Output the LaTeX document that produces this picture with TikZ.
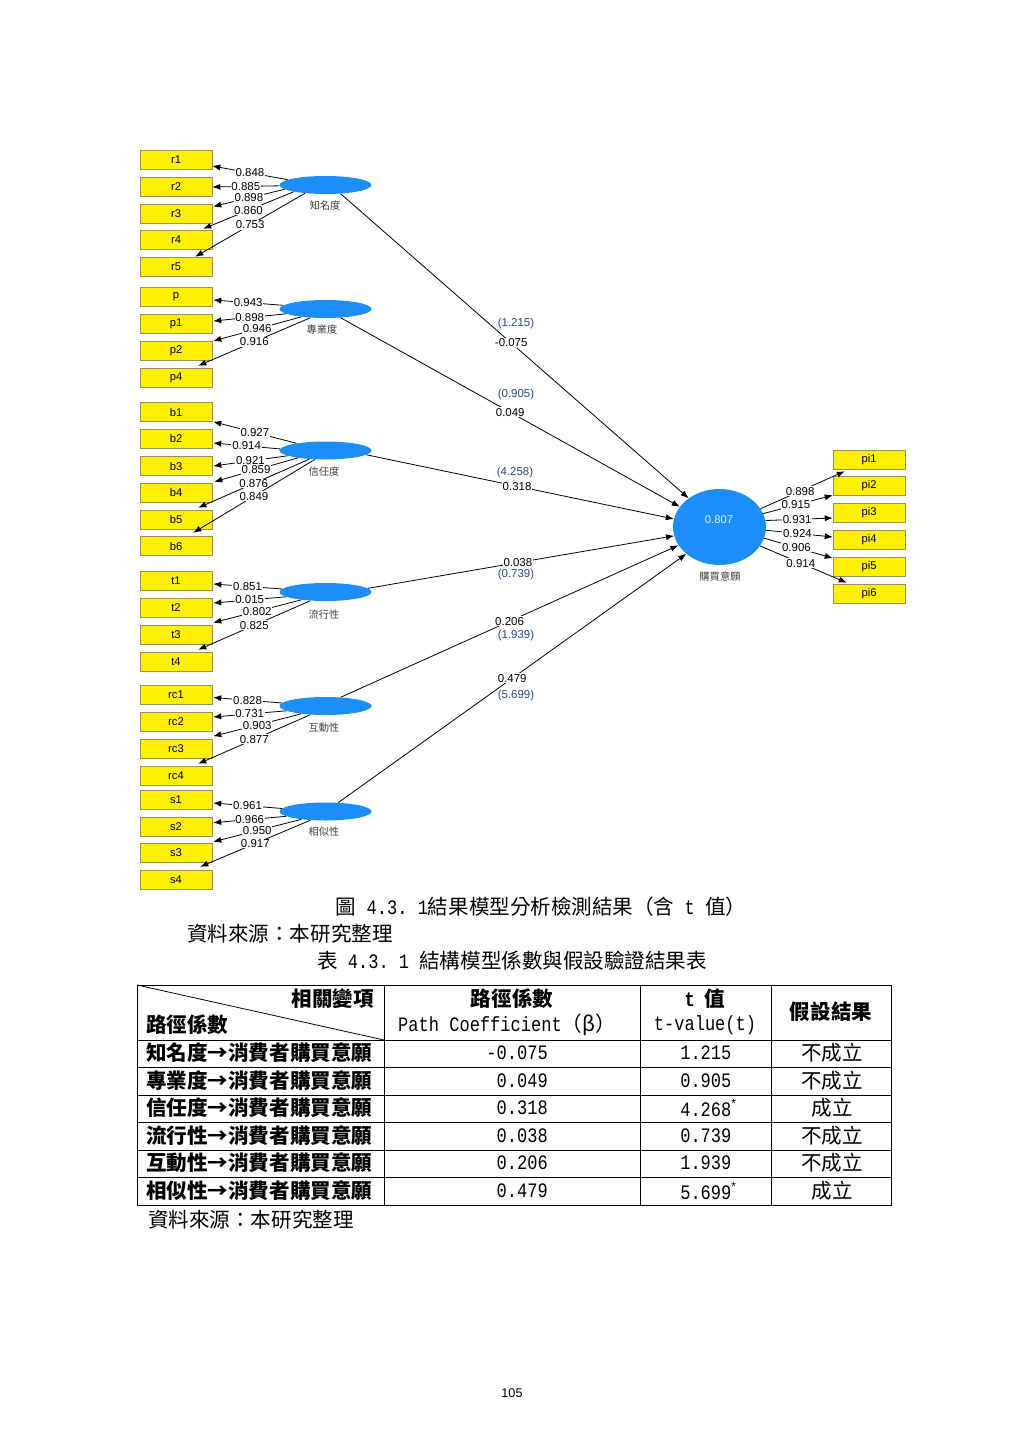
\documentclass[tikz,border=0pt]{standalone}
\usepackage{fontspec}
\setmainfont{Liberation Sans}
\newfontfamily\cjk{Noto Sans CJK TC}
\newfontfamily\hw[FakeStretch=0.83]{Liberation Mono}
\newfontfamily\lsans{Liberation Sans}
\usetikzlibrary{shapes.geometric,arrows.meta,calc}
\definecolor{yel}{RGB}{255,240,0}
\definecolor{yeldraw}{RGB}{150,145,90}
\definecolor{lvblue}{RGB}{28,142,248}
\definecolor{tblue}{RGB}{40,75,130}
\tikzset{
  ind/.style={rectangle, draw=yeldraw, fill=yel, minimum width=54pt, minimum height=14.25pt, inner sep=0pt, font=\fontsize{8.4}{9}\selectfont},
  lv/.style={ellipse, fill=lvblue, minimum width=69pt, minimum height=13.5pt, inner sep=0pt},
  lvlab/.style={inner sep=0pt, text=black!75, font=\cjk\fontsize{7.7}{9}\selectfont},
  lab/.style={fill=white, inner sep=0.6pt, font=\fontsize{8.6}{9}\selectfont},
  tv/.style={inner sep=0.5pt, text=tblue, font=\fontsize{8.6}{9}\selectfont},
  ar/.style={-{Latex[length=6pt,width=4.6pt]}, line width=0.6pt},
  tl/.style={line width=0.7pt},
  tb/.style={inner sep=0pt, font=\cjk\fontsize{15.4}{18}\selectfont},
  tbb/.style={inner sep=0pt, font=\cjk\bfseries\fontsize{15.4}{18}\selectfont},
  tn/.style={inner sep=0pt, font=\hw\fontsize{15.4}{18}\selectfont}
}
\newcommand{\mystar}{\raisebox{0.9ex}{\lsans\fontsize{9}{10}\selectfont *}}
\begin{document}
\begin{tikzpicture}[x=0.75pt,y=-0.75pt]
\fill[white] (0,0) rectangle (1024,1448);
\useasboundingbox (0,0) rectangle (1024,1448);

% indicator boxes (left)
\node[ind] (r1) at (176,160) {r1};
\node[ind] (r2) at (176,187) {r2};
\node[ind] (r3) at (176,213.5) {r3};
\node[ind] (r4) at (176,240) {r4};
\node[ind] (r5) at (176,267) {r5};
\node[ind] (p) at (176,297) {p};
\node[ind] (p1) at (176,323.5) {p1};
\node[ind] (p2) at (176,351) {p2};
\node[ind] (p4) at (176,377.5) {p4};
\node[ind] (b1) at (176,412) {b1};
\node[ind] (b2) at (176,438.5) {b2};
\node[ind] (b3) at (176,466) {b3};
\node[ind] (b4) at (176,492.5) {b4};
\node[ind] (b5) at (176,519.5) {b5};
\node[ind] (b6) at (176,546) {b6};
\node[ind] (t1) at (176,581) {t1};
\node[ind] (t2) at (176,608) {t2};
\node[ind] (t3) at (176,635) {t3};
\node[ind] (t4) at (176,661.5) {t4};
\node[ind] (rc1) at (176,694.5) {rc1};
\node[ind] (rc2) at (176,722) {rc2};
\node[ind] (rc3) at (176,748.5) {rc3};
\node[ind] (rc4) at (176,775.5) {rc4};
\node[ind] (s1) at (176,800) {s1};
\node[ind] (s2) at (176,826.7) {s2};
\node[ind] (s3) at (176,853) {s3};
\node[ind] (s4) at (176,880) {s4};

% indicator boxes (right)
\node[ind] (pi1) at (869,460) {pi1};
\node[ind] (pi2) at (869,486) {pi2};
\node[ind] (pi3) at (869,513) {pi3};
\node[ind] (pi4) at (869,539.5) {pi4};
\node[ind] (pi5) at (869,567) {pi5};
\node[ind] (pi6) at (869,593.5) {pi6};

% latent variables
\node[lv] (zm) at (325.5,185) {};
\node[lv] (zy) at (325.5,309) {};
\node[lv] (xr) at (325.5,450.5) {};
\node[lv] (lx) at (325.5,592) {};
\node[lv] (hd) at (325.5,706) {};
\node[lv] (xs) at (325.5,811.5) {};
\node[ellipse, fill=lvblue, minimum width=69.75pt, minimum height=57pt, inner sep=0pt] (bi) at (719.5,527) {};
\node[inner sep=0pt, text={rgb,255:red,220;green,240;blue,255}, font=\fontsize{8.4}{9}\selectfont] (bival) at (719,520) {0.807};

\node[lvlab] (zmL) at (325,206) {知名度};
\node[lvlab] (zyL) at (322,330) {專業度};
\node[lvlab] (xrL) at (324,472) {信任度};
\node[lvlab] (lxL) at (324,615) {流行性};
\node[lvlab] (hdL) at (324,728) {互動性};
\node[lvlab] (xsL) at (324,832) {相似性};
\node[lvlab] (biL) at (720,577) {購買意願};

% loadings group 1
\draw[ar] (zm.172) -- node[lab]{0.848} ($(r1.east)+(0,6)$);
\draw[ar] (zm.181) -- node[lab]{0.885} (r2.east);
\draw[ar] (zm.186) -- node[lab]{0.898} ($(r3.east)+(1,-7)$);
\draw[ar] (zm.192) -- node[lab]{0.860} ($(r4.north east)+(-9,-1.5)$);
\draw[ar] (zm.202) -- node[lab]{0.753} ($(r5.north east)+(-17,-0.5)$);
% group 2
\draw[ar] (zy.175) -- node[lab]{0.943} ($(p.east)+(1,3)$);
\draw[ar] (zy.187) -- node[lab]{0.898} ($(p1.east)+(1,-2.5)$);
\draw[ar] (zy.198) -- node[lab]{0.946} ($(p2.east)+(1,-10)$);
\draw[ar] (zy.210) -- node[lab]{0.916} ($(p4.north east)+(-14,-2)$);
% group 3
\draw[ar] (xr.166) -- node[lab]{0.927} ($(b1.south east)+(1,0)$);
\draw[ar] (xr.178) -- node[lab]{0.914} ($(b2.east)+(1,4.5)$);
\draw[ar] (xr.188) -- node[lab]{0.921} ($(b3.east)+(1,0)$);
\draw[ar] (xr.195) -- node[lab]{0.859} ($(b4.north east)+(2,-1)$);
\draw[ar] (xr.208) -- node[lab]{0.876} ($(b5.north east)+(-14,-2)$);
\draw[ar] (xr.220) -- node[lab]{0.849} ($(b6.north east)+(-19,-3.5)$);
% group 4
\draw[ar] (lx.176) -- node[lab]{0.851} ($(t1.east)+(1,3)$);
\draw[ar] (lx.187) -- node[lab]{0.015} ($(t2.east)+(1,-5)$);
\draw[ar] (lx.198) -- node[lab]{0.802} ($(t3.north east)+(1,-2.5)$);
\draw[ar] (lx.210) -- node[lab]{0.825} ($(t4.north east)+(-14,-2)$);
% group 5
\draw[ar] (hd.176) -- node[lab]{0.828} ($(rc1.east)+(1,3)$);
\draw[ar] (hd.187) -- node[lab]{0.731} ($(rc2.east)+(1,-5)$);
\draw[ar] (hd.198) -- node[lab]{0.903} ($(rc3.north east)+(1,-2.5)$);
\draw[ar] (hd.210) -- node[lab]{0.877} ($(rc4.north east)+(-14,-2)$);
% group 6
\draw[ar] (xs.176) -- node[lab]{0.961} ($(s1.east)+(1,3)$);
\draw[ar] (xs.187) -- node[lab]{0.966} ($(s2.east)+(1,-4)$);
\draw[ar] (xs.198) -- node[lab]{0.950} ($(s3.north east)+(1,-1.5)$);
\draw[ar] (xs.210) -- node[lab]{0.917} ($(s4.north east)+(-12,-3.5)$);

% structural paths
\draw[ar] (zm.-30) -- node[lab,pos=0.49] (be1) {-0.075} (bi.137);
\draw[ar] (zy.-30) -- node[lab,pos=0.5] (be2) {0.049} (bi.153);
\draw[ar] (xr.-6) -- node[lab,pos=0.49] (be3) {0.318} (bi.170);
\draw[ar] (lx.5) -- node[lab,pos=0.49] (be4) {0.038} (bi.191);
\draw[ar] (hd.30) -- node[lab,pos=0.5] (be5) {0.206} (bi.204);
\draw[ar] (xs.35) -- node[lab,pos=0.5] (be6) {0.479} (bi.219);
\node[tv] (tv1) at (516,324) {(1.215)};
\node[tv] (tv2) at (516,395) {(0.905)};
\node[tv] (tv3) at (515,473) {(4.258)};
\node[tv] (tv4) at (516,575) {(0.739)};
\node[tv] (tv5) at (516,636) {(1.939)};
\node[tv] (tv6) at (516,696) {(5.699)};

% right loadings
\draw[ar] (bi.24) -- node[lab,pos=0.47]{0.898} ($(pi1.south west)+(12,1.5)$);
\draw[ar] (bi.17) -- node[lab,pos=0.47]{0.915} ($(pi2.south west)+(0,-0.5)$);
\draw[ar] (bi.8) -- node[lab,pos=0.47]{0.931} ($(pi3.west)+(0,5)$);
\draw[ar] (bi.-4) -- node[lab,pos=0.47]{0.924} ($(pi4.west)+(0,-2.5)$);
\draw[ar] (bi.-14) -- node[lab,pos=0.47]{0.906} ($(pi5.north west)+(0,1)$);
\draw[ar] (bi.-25) -- node[lab,pos=0.47]{0.914} ($(pi6.north west)+(14,-1)$);

% captions
\node[tb] (cap1) at (541,907) {圖{\hw\ 4.3.\ 1}結果模型分析檢測結果（含{\hw\ t\ }值）};
\node[tb, anchor=west] (src1) at (187,934) {資料來源：本研究整理};
\node[tb] (cap2) at (512,961) {表{\hw\ 4.3.\ 1\ }結構模型係數與假設驗證結果表};

% table
\draw[tl] (137,985) rectangle (891,1205);
\foreach \yy in {1040,1067,1095,1122,1150,1177} \draw[tl] (137,\yy) -- (891,\yy);
\foreach \xx in {384,640,771} \draw[tl] (\xx,985) -- (\xx,1205);
\draw[line width=0.6pt] (137,985) -- (384,1040);

\node[tbb, anchor=east] (h1a) at (374,999) {相關變項};
\node[tbb, anchor=west] (h1b) at (146,1025) {路徑係數};
\node[tbb] (h2a) at (512,999) {路徑係數};
\node[tb] (h2b) at (507,1025) {{\hw Path Coefficient}（β）};
\node[tbb] (h3a) at (705,999) {{\hw\bfseries t\ }值};
\node[tn] (h3b) at (705,1025) {t-value(t)};
\node[tbb] (h4) at (831,1012) {假設結果};

\node[tbb, anchor=west] (c11) at (146,1053) {知名度→消費者購買意願};
\node[tbb, anchor=west] (c21) at (146,1081) {專業度→消費者購買意願};
\node[tbb, anchor=west] (c31) at (146,1108) {信任度→消費者購買意願};
\node[tbb, anchor=west] (c41) at (146,1136) {流行性→消費者購買意願};
\node[tbb, anchor=west] (c51) at (146,1163) {互動性→消費者購買意願};
\node[tbb, anchor=west] (c61) at (146,1191) {相似性→消費者購買意願};

\node[tn, anchor=east] (c12) at (548,1053) {-0.075};
\node[tn, anchor=east] (c22) at (548,1081) {0.049};
\node[tn, anchor=east] (c32) at (548,1108) {0.318};
\node[tn, anchor=east] (c42) at (548,1136) {0.038};
\node[tn, anchor=east] (c52) at (548,1163) {0.206};
\node[tn, anchor=east] (c62) at (548,1191) {0.479};

\node[tn, anchor=west] (c13) at (680,1053) {1.215};
\node[tn, anchor=west] (c23) at (680,1081) {0.905};
\node[tn, anchor=west] (c33) at (680,1108) {4.268\mystar};
\node[tn, anchor=west] (c43) at (680,1136) {0.739};
\node[tn, anchor=west] (c53) at (680,1163) {1.939};
\node[tn, anchor=west] (c63) at (680,1191) {5.699\mystar};

\node[tb] (c14) at (832,1053) {不成立};
\node[tb] (c24) at (832,1081) {不成立};
\node[tb] (c34) at (832,1108) {成立};
\node[tb] (c44) at (832,1136) {不成立};
\node[tb] (c54) at (832,1163) {不成立};
\node[tb] (c64) at (832,1191) {成立};

\node[tb, anchor=west] (src2) at (148,1220) {資料來源：本研究整理};
\node[inner sep=0pt, font=\fontsize{9.5}{11}\selectfont] (pg) at (512,1393) {105};
\end{tikzpicture}
\end{document}
